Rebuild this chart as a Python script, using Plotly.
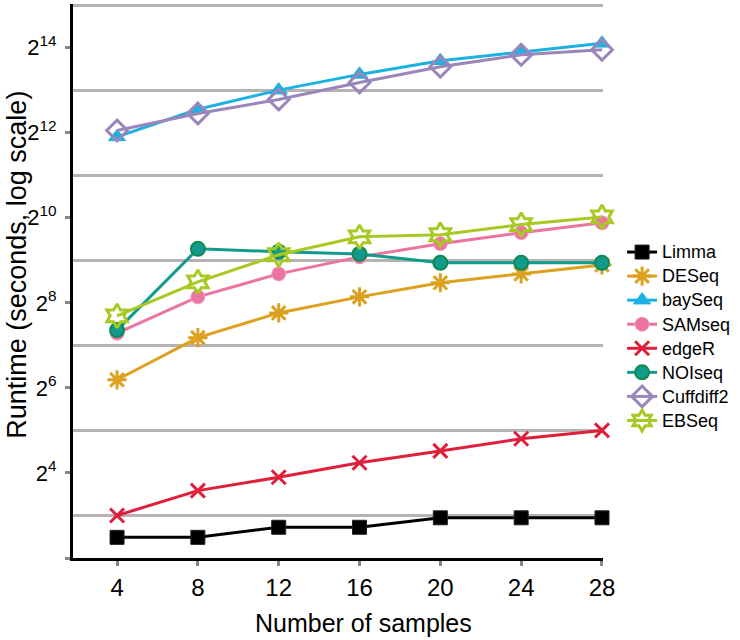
import math
import plotly.graph_objects as go

samples = [4, 8, 12, 16, 20, 24, 28]

# runtime in seconds
limma = [5.6, 5.6, 6.6, 6.6, 7.7, 7.7, 7.7]
deseq = [73, 145, 217, 282, 355, 410, 474]
bayseq = [3822, 5997, 8192, 10585, 13216, 15287, 17560]
samseq = [156, 282, 410, 541, 671, 803, 942]
edger = [8.0, 12.0, 14.9, 18.9, 22.9, 27.9, 32.0]
noiseq = [164, 617, 588, 568, 491, 491, 491]
cuffdiff2 = [4240, 5595, 7033, 9281, 11993, 14563, 15826]
ebseq = [207, 360, 560, 750, 776, 916, 1038]

major_exps = [2, 4, 6, 8, 10, 12, 14]
minor_exps = [3, 5, 7, 9, 11, 13, 15]
tick_vals = [2 ** e for e in major_exps]
tick_text = ["" if e == 2 else f"2<sup>{e}</sup>" for e in major_exps]
grid_vals = [2 ** e for e in minor_exps]

series = [
    ("Limma", limma, "#000000", dict(symbol="square", size=14, color="#000000", line=dict(color="#222222", width=1))),
    ("DESeq", deseq, "#dca11f", dict(symbol="asterisk-open", size=16, color="#dca11f", line=dict(color="#dca11f", width=3))),
    ("baySeq", bayseq, "#1bb1e0", dict(symbol="triangle-up", size=15, color="#1bb1e0", line=dict(color="#1bb1e0", width=1))),
    ("SAMseq", samseq, "#ec74a0", dict(symbol="circle", size=14, color="#ec74a0", line=dict(color="#f29cbd", width=1))),
    ("edgeR", edger, "#e01f3c", dict(symbol="x-thin-open", size=14, color="#e01f3c", line=dict(color="#e01f3c", width=3))),
    ("NOIseq", noiseq, "#129b8d", dict(symbol="circle", size=14, color="#129b8d", line=dict(color="#0d8a50", width=2))),
    ("Cuffdiff2", cuffdiff2, "#9a86ba", dict(symbol="diamond-open", size=16, color="#9a86ba", line=dict(color="#9a86ba", width=3))),
    ("EBSeq", ebseq, "#a8c922", dict(symbol="hexagram-open", size=18, color="#a8c922", line=dict(color="#a8c922", width=3))),
]

fig = go.Figure()
for name, vals, col, mk in series:
    fig.add_trace(go.Scatter(
        x=samples, y=vals, mode="lines+markers", cliponaxis=False,
        name=f'<span style="font-size:18px">{name}</span>',
        line=dict(color=col, width=3), marker=mk,
    ))

fig.update_layout(
    width=740, height=640,
    margin=dict(l=73, r=127, t=4, b=82),
    paper_bgcolor="white", plot_bgcolor="white",
    font=dict(family="Liberation Sans, Arial, sans-serif", color="#000000"),
    showlegend=True,
    legend=dict(x=1.036, y=0.583, xanchor="left", yanchor="top",
                font=dict(size=16.2, color="#000000"), bgcolor="rgba(0,0,0,0)"),
    xaxis=dict(
        range=[1.82, 28.05], tickvals=samples, showgrid=False, zeroline=False,
        showline=True, linecolor="#000000", linewidth=3,
        ticks="outside", ticklen=5, tickwidth=3, tickcolor="#888888",
        tickfont=dict(size=24), ticklabelstandoff=1,
    ),
    yaxis=dict(
        type="log", range=[math.log10(4), 15.025 * math.log10(2)],
        tickvals=tick_vals, ticktext=tick_text, showgrid=False, zeroline=False,
        showline=True, linecolor="#000000", linewidth=3,
        ticks="outside", ticklen=5, tickwidth=3, tickcolor="#888888",
        tickfont=dict(size=22), ticklabelstandoff=4,
        minor=dict(tickmode="array", tickvals=grid_vals, showgrid=True,
                   gridcolor="#b8b3b3", gridwidth=3, ticks=""),
    ),
    annotations=[
        dict(text="Number of samples", xref="paper", yref="paper",
             x=0.548, y=-0.088, xanchor="center", yanchor="top",
             showarrow=False, font=dict(size=25)),
        dict(text="Runtime (seconds, log scale)", xref="paper", yref="paper",
             x=-0.1351, y=0.53, xanchor="left", yanchor="middle", textangle=-90,
             showarrow=False, font=dict(size=27), borderpad=0),
    ],
)

fig.write_html("out.html", config={"displayModeBar": False},
               post_script="document.body.style.margin='0px';")
